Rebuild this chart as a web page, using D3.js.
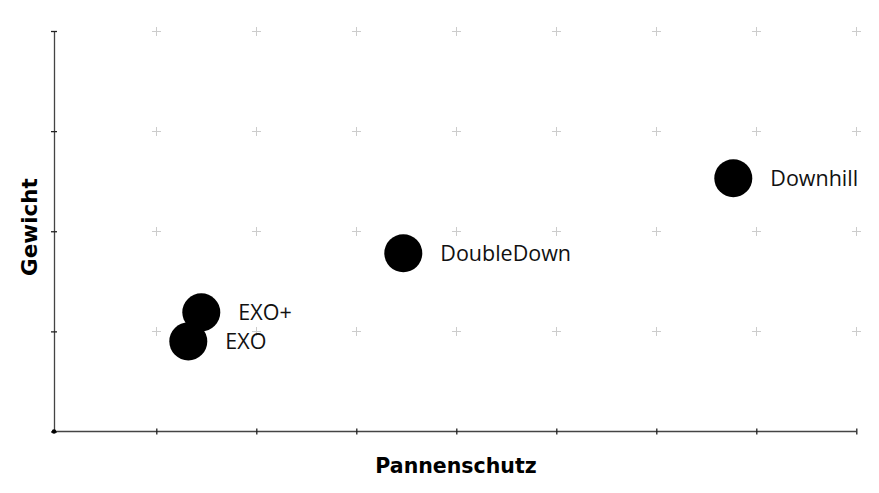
<!DOCTYPE html>
<html><head><meta charset="utf-8">
<script src="https://cdn.jsdelivr.net/npm/d3@7"></script>
<style>body{margin:0;background:#fff}</style>
</head><body>
<script>
const names = ["EXO+", "EXO", "DoubleDown", "Downhill"];
const pannenschutz = [1.45, 1.32, 3.47, 6.77];
const gewicht = [1.19, 0.9, 1.78, 2.53];
const xTicks = [0,1,2,3,4,5,6,7,8];
const yTicks = [0,1,2,3,4];
const xTitle = "Pannenschutz";
const yTitle = "Gewicht";

const W = 879, H = 493;
const svg = d3.select("body").append("svg").attr("width", W).attr("height", H);
const x = d3.scaleLinear().domain([0, 8]).range([56.3, 856.3]);
const y = d3.scaleLinear().domain([0, 4]).range([431.5, 31]);
const axisX = 54;

// grid plus markers
const gp = [];
xTicks.slice(1).forEach(a => yTicks.slice(1).forEach(b => gp.push([a, b])));
const g = svg.append("g").attr("stroke", "#cccccc").attr("stroke-width", 1);
g.selectAll("path").data(gp).join("path")
  .attr("d", d => { const cx = Math.round(x(d[0])) + 0.5, cy = Math.round(y(d[1])) + 0.5;
    return `M${cx-4.5},${cy}H${cx+4.5}M${cx},${cy-4.5}V${cy+4.5}`; });

// axes
const xa = svg.append("g").attr("transform", `translate(0,${y(0)})`)
  .call(d3.axisBottom(x).tickValues(xTicks.slice(1)).tickSize(0).tickFormat(""));
xa.select(".domain").attr("d", `M${axisX},0H${x(8)}`).attr("stroke", "#444").attr("stroke-width", 1.3);
xa.selectAll(".tick").append("line").attr("y1", -3).attr("y2", 3).attr("stroke", "#222").attr("stroke-width", 1.3);
const ya = svg.append("g").attr("transform", `translate(${axisX},0)`)
  .call(d3.axisLeft(y).tickValues(yTicks).tickSize(0).tickFormat(""));
ya.select(".domain").attr("stroke", "#444").attr("stroke-width", 1.3);
ya.selectAll(".tick").append("line").attr("x1", -3).attr("x2", 3).attr("stroke", "#222").attr("stroke-width", 1.3);
svg.append("circle").attr("cx", axisX).attr("cy", y(0)).attr("r", 2.2).attr("fill", "#000");

// points
const data = names.map((n, i) => ({n, px: pannenschutz[i], py: gewicht[i]}));
svg.append("g").selectAll("circle").data(data).join("circle")
  .attr("cx", d => x(d.px)).attr("cy", d => y(d.py)).attr("r", 19).attr("fill", "#000");
svg.append("g").selectAll("text").data(data).join("text")
  .attr("x", d => x(d.px) + 37).attr("y", d => y(d.py) + 8)
  .attr("font-family", "'Open Sans', sans-serif").attr("font-size", 21.5).attr("fill", "#111")
  .text(d => d.n);

// titles
svg.append("text").attr("x", 456).attr("y", 473).attr("text-anchor", "middle")
  .attr("font-family", "'DejaVu Sans', sans-serif").attr("font-weight", "bold").attr("font-size", 20.5)
  .text(xTitle);
svg.append("text").attr("transform", "translate(37,227) rotate(-90)").attr("text-anchor", "middle")
  .attr("font-family", "'DejaVu Sans', sans-serif").attr("font-weight", "bold").attr("font-size", 21.5)
  .text(yTitle);
</script>
</body></html>
